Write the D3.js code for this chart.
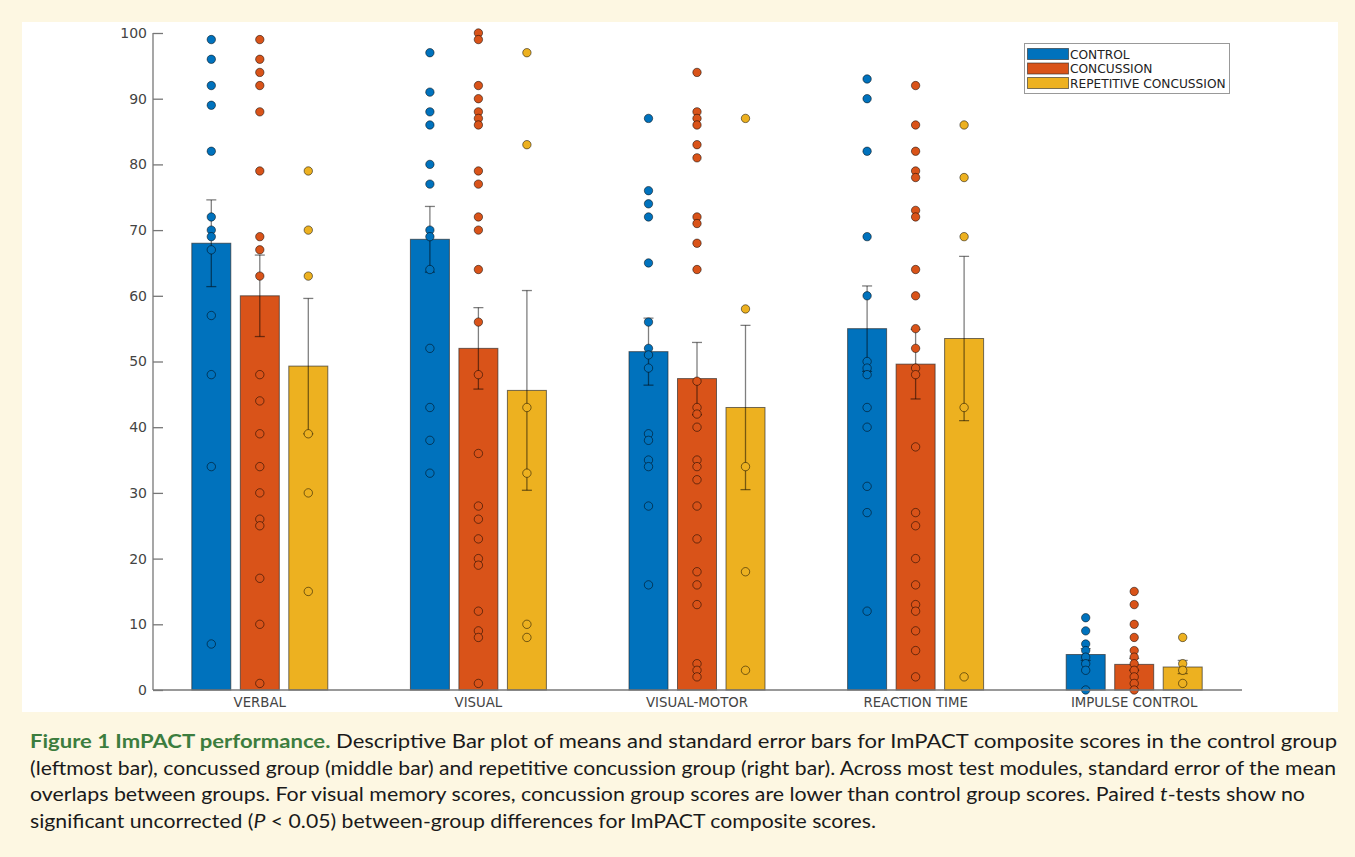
<!DOCTYPE html>
<html>
<head>
<meta charset="utf-8">
<script src="https://cdn.jsdelivr.net/npm/d3@7"></script>
<style>
  html, body { margin: 0; padding: 0; background: #fdf7e2; }
  svg { display: block; }
</style>
</head>
<body>
<svg id="chart" width="1355" height="857"></svg>
<script>
// ---------- DATA ----------
const categories = ["VERBAL", "VISUAL", "VISUAL-MOTOR", "REACTION TIME", "IMPULSE CONTROL"];
const seriesNames = ["CONTROL", "CONCUSSION", "REPETITIVE CONCUSSION"];
const seriesColors = ["#0072BD", "#D95319", "#EDB120"];

const controlMean = [68.0, 68.6, 51.5, 55.0, 5.4];
const concussionMean = [60.0, 52.0, 47.4, 49.6, 3.9];
const repetitiveMean = [49.3, 45.6, 43.0, 53.5, 3.5];

const controlSE = [6.6, 5.0, 5.1, 6.5, 0.9];
const concussionSE = [6.2, 6.2, 5.5, 5.3, 0.9];
const repetitiveSE = [10.3, 15.2, 12.5, 12.5, 1.0];

const controlPoints = [
  [99, 96, 92, 89, 82, 72, 70, 69, 67, 57, 48, 34, 7],
  [97, 91, 88, 86, 80, 77, 70, 69, 64, 52, 43, 38, 33],
  [87, 76, 74, 72, 65, 56, 52, 51, 49, 39, 38, 35, 34, 28, 16],
  [93, 90, 82, 69, 60, 50, 49, 48, 43, 40, 31, 27, 12],
  [11, 9, 7, 6, 5, 4, 3, 0]
];
const concussionPoints = [
  [99, 96, 94, 92, 88, 79, 69, 67, 63, 48, 44, 39, 34, 30, 26, 25, 17, 10, 1],
  [100, 99, 92, 90, 88, 87, 86, 79, 77, 72, 70, 64, 56, 48, 36, 28, 26, 23, 20, 19, 12, 9, 8, 1],
  [94, 88, 87, 86, 83, 81, 72, 71, 68, 64, 47, 43, 42, 40, 35, 34, 32, 28, 23, 18, 16, 13, 4, 3, 2],
  [92, 86, 82, 79, 78, 73, 72, 64, 60, 55, 52, 49, 48, 37, 27, 25, 20, 16, 13, 12, 9, 6, 2],
  [15, 13, 10, 8, 6, 5, 4, 3, 2, 1, 0]
];
const repetitivePoints = [
  [79, 70, 63, 39, 30, 15],
  [97, 83, 43, 33, 10, 8],
  [87, 58, 34, 18, 3],
  [86, 78, 69, 43, 2],
  [8, 4, 3, 1]
];
const yTicks = [0, 10, 20, 30, 40, 50, 60, 70, 80, 90, 100];

const captionLines = [
  [{t: "Figure 1 ImPACT performance.", s: "title"}, {t: " Descriptive Bar plot of means and standard error bars for ImPACT composite scores in the control group"}],
  [{t: "(leftmost bar), concussed group (middle bar) and repetitive concussion group (right bar). Across most test modules, standard error of the mean"}],
  [{t: "overlaps between groups. For visual memory scores, concussion group scores are lower than control group scores. Paired "}, {t: "t", s: "italic"}, {t: "-tests show no"}],
  [{t: "significant uncorrected ("}, {t: "P", s: "italic"}, {t: " < 0.05) between-group differences for ImPACT composite scores."}]
];
const captionWidths = [1307, 1306, 1275, 846];

// ---------- BUILD ----------
const means = [controlMean, concussionMean, repetitiveMean];
const ses = [controlSE, concussionSE, repetitiveSE];
const points = [controlPoints, concussionPoints, repetitivePoints];

const svg = d3.select("#chart");
svg.append("rect").attr("x", 0).attr("y", 0).attr("width", 1355).attr("height", 857).attr("fill", "#fdf7e2");
svg.append("rect").attr("x", 22).attr("y", 22).attr("width", 1316).attr("height", 690).attr("fill", "#ffffff");

const x0 = d3.scaleBand().domain(categories).range([150.5, 1243.5]).padding(0);
const x1 = d3.scaleBand().domain(seriesNames).range([-72.75, 72.75]).paddingInner(0.196).paddingOuter(0.098);
const y = d3.scaleLinear().domain([0, 100]).range([690, 33]);

const axisX = 153;
const font = "'DejaVu Sans', sans-serif";

// bars
const bars = [];
seriesNames.forEach((s, si) => {
  categories.forEach((c, ci) => {
    bars.push({s, si, c, ci, mean: means[si][ci], se: ses[si][ci], pts: points[si][ci]});
  });
});

const gBars = svg.append("g");
gBars.selectAll("rect").data(bars).join("rect")
  .attr("x", d => x0(d.c) + x0.bandwidth() / 2 + x1(d.s))
  .attr("y", d => y(d.mean))
  .attr("width", x1.bandwidth())
  .attr("height", d => y(0) - y(d.mean))
  .attr("fill", d => seriesColors[d.si])
  .attr("stroke", "rgba(40,40,40,0.65)")
  .attr("stroke-width", 1);

const cx = d => x0(d.c) + x0.bandwidth() / 2 + x1(d.s) + x1.bandwidth() / 2;

// error bars
const gErr = svg.append("g").attr("stroke", "rgba(0,0,0,0.5)").attr("stroke-width", 1.3).attr("fill", "none");
bars.forEach(d => {
  const xc = cx(d);
  const yt = y(d.mean + d.se), yb = y(d.mean - d.se);
  gErr.append("line").attr("x1", xc).attr("x2", xc).attr("y1", yt).attr("y2", yb);
  gErr.append("line").attr("x1", xc - 5).attr("x2", xc + 5).attr("y1", yt).attr("y2", yt);
  gErr.append("line").attr("x1", xc - 5).attr("x2", xc + 5).attr("y1", yb).attr("y2", yb);
});

// points
const gPts = svg.append("g");
bars.forEach(d => {
  gPts.selectAll(null).data(d.pts).join("circle")
    .attr("cx", cx(d))
    .attr("cy", v => y(v))
    .attr("r", 4.2)
    .attr("fill", seriesColors[d.si])
    .attr("stroke", "rgba(0,0,0,0.5)")
    .attr("stroke-width", 1);
});

// y axis
const yAxis = d3.axisRight(y).tickValues(yTicks).tickSize(10).tickFormat(d3.format("d"));
const gy = svg.append("g").attr("transform", `translate(${axisX},0)`).call(yAxis);
gy.select(".domain").attr("stroke", "#777").attr("stroke-width", 1.3).attr("d", `M0,${y(100)}V${y(0)}`);
gy.selectAll(".tick line").attr("stroke", "#777").attr("stroke-width", 1.3);
gy.selectAll(".tick text").attr("x", -6).attr("text-anchor", "end")
  .attr("font-family", font).attr("font-size", 14).attr("fill", "#444");

// x axis
const xAxis = d3.axisBottom(x0).tickSize(0).tickPadding(8);
const gx = svg.append("g").attr("transform", `translate(0,${y(0)})`).call(xAxis);
gx.select(".domain").attr("stroke", "#777").attr("stroke-width", 1.3).attr("d", `M${axisX},0H1242`);
gx.selectAll(".tick text").attr("font-family", font).attr("font-size", 13.3).attr("fill", "#444");

// legend
const lg = svg.append("g");
lg.append("rect").attr("x", 1024.5).attr("y", 43.5).attr("width", 205).attr("height", 50)
  .attr("fill", "#fff").attr("stroke", "#999").attr("stroke-width", 1);
seriesNames.forEach((s, i) => {
  const yy = 48.5 + i * 14.5;
  lg.append("rect").attr("x", 1027.5).attr("y", yy).attr("width", 41).attr("height", 11)
    .attr("fill", seriesColors[i]).attr("stroke", "rgba(40,40,40,0.6)").attr("stroke-width", 1);
  lg.append("text").attr("x", 1070).attr("y", yy + 10).text(s)
    .attr("font-family", font).attr("font-size", 12.2).attr("fill", "#222");
});

// caption
const cap = svg.append("g");
const baselines = [748, 774.5, 801, 828];
captionLines.forEach((line, li) => {
  const t = cap.append("text").attr("x", 30).attr("y", baselines[li])
    .attr("font-family", "Lato, 'Open Sans', sans-serif").attr("font-size", 18.5).attr("fill", "#1a1a1a")
    .attr("textLength", captionWidths[li]).attr("lengthAdjust", "spacingAndGlyphs");
  line.forEach(seg => {
    const ts = t.append("tspan").text(seg.t);
    if (seg.s === "title") ts.attr("font-weight", "bold").attr("fill", "#3c7d3e");
    if (seg.s === "italic") ts.attr("font-style", "italic");
  });
});
</script>
</body>
</html>
